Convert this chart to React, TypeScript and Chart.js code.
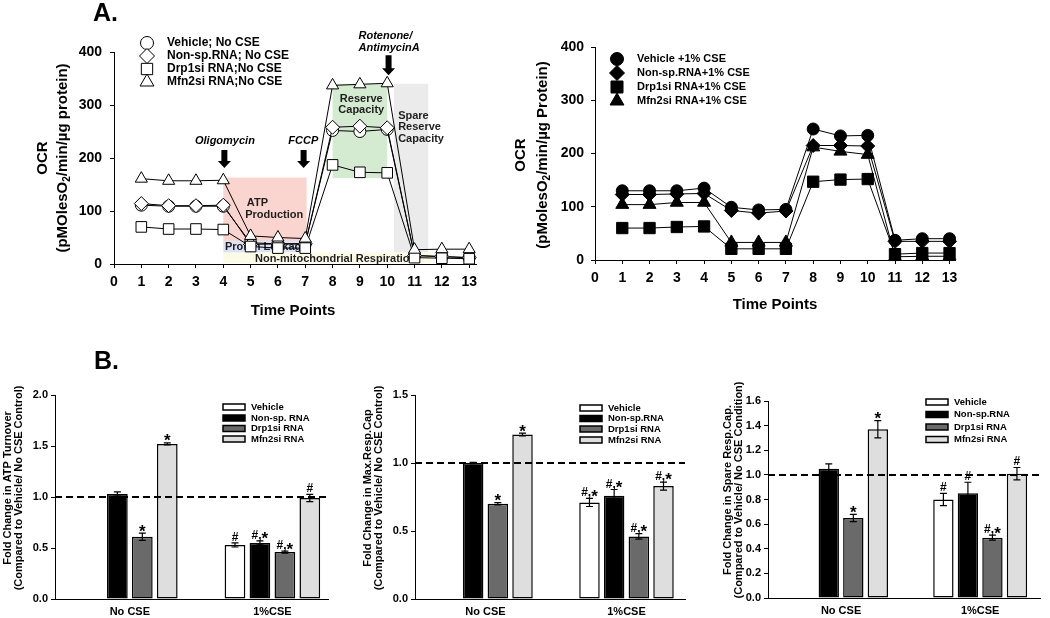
import React, { useEffect, useRef } from 'react';
import { Chart, registerables } from 'chart.js';

Chart.register(...registerables);

const FONT = '"Liberation Sans", Arial, Helvetica, sans-serif';
const W = 1050;
const H = 618;
const bold = (s: number) => `bold ${s}px ${FONT}`;
const boldItalic = (s: number) => `italic bold ${s}px ${FONT}`;

// ---------------- Panel A: OCR time course ----------------
const timePoints = [1, 2, 3, 4, 5, 6, 7, 8, 9, 10, 11, 12, 13];
const timeTicks = [0, 1, 2, 3, 4, 5, 6, 7, 8, 9, 10, 11, 12, 13];
const ocrTicks = [0, 100, 200, 300, 400];

const vehicleNoCSE = [111, 109, 109, 109, 40, 38, 38, 252, 250, 254, 16, 14, 12];
const nonspNoCSE = [114, 110, 110, 111, 37, 38, 38, 258, 260, 257, 16, 14, 12];
const drp1NoCSE = [70, 66, 66, 65, 33, 30, 30, 187, 173, 172, 12, 11, 10];
const mfn2NoCSE = [161, 157, 157, 158, 53, 50, 48, 337, 339, 341, 27, 28, 28];

const vehicleCSE = [130, 130, 130, 135, 99, 94, 95, 246, 233, 234, 37, 40, 40];
const nonspCSE = [123, 123, 124, 125, 93, 88, 92, 215, 215, 214, 35, 35, 35];
const drp1CSE = [60, 60, 62, 63, 21, 21, 21, 147, 151, 152, 11, 13, 13];
const mfn2CSE = [104, 104, 108, 108, 33, 33, 33, 212, 204, 198, 6, 7, 7];

const legendNoCSE = ['Vehicle; No CSE', 'Non-sp.RNA; No CSE', 'Drp1si RNA;No CSE', 'Mfn2si RNA;No CSE'];
const legendCSE = ['Vehicle +1% CSE', 'Non-sp.RNA+1% CSE', 'Drp1si RNA+1% CSE', 'Mfn2si RNA+1% CSE'];

// shaded phases (data coordinates of the No CSE panel)
const phaseRegions = [
  { x0: 4, x1: 11.6, y0: 2, y1: 22, color: '#fcfbe8' },
  { x0: 4, x1: 7.05, y0: 43, y1: 163, color: '#fad5cf' },
  { x0: 4, x1: 7.05, y0: 22, y1: 43, color: '#dde1f5' },
  { x0: 8, x1: 10, y0: 162, y1: 340, color: '#d4ebd2' },
  { x0: 10.25, x1: 11.5, y0: 22, y1: 340, color: '#ebebeb' },
];
const phaseTexts = [
  { text: 'ATP', x: 4.86, y: 115, align: 'left' },
  { text: 'Production', x: 4.8, y: 93, align: 'left' },
  { text: 'Proton Leakage', x: 5.57, y: 32, align: 'center' },
  { text: 'Non-mitochondrial Respiration', x: 5.16, y: 9, align: 'left' },
  { text: 'Reserve', x: 9.05, y: 311, align: 'center' },
  { text: 'Capacity', x: 9.05, y: 290, align: 'center' },
  { text: 'Spare', x: 10.4, y: 279, align: 'left' },
  { text: 'Reserve', x: 10.4, y: 258, align: 'left' },
  { text: 'Capacity', x: 10.4, y: 236, align: 'left' },
];
const injections = [
  { lines: ['Oligomycin'], arrowX: 4.04, textX: 4.06, textY: [232], align: 'center', top: 215, tip: 181 },
  { lines: ['FCCP'], arrowX: 6.94, textX: 6.93, textY: [232], align: 'center', top: 215, tip: 181 },
  { lines: ['Rotenone/', 'AntimycinA'], arrowX: 10.05, textX: 8.95, textY: [430, 408], align: 'left', top: 394, tip: 356 },
];

// ---------------- Panel B: fold changes ----------------
const groupLabels = ['No CSE', '1%CSE'];
const groupPos = [1, 3];
const namesATP = ['Vehicle', 'Non-sp. RNA', 'Drp1si RNA', 'Mfn2si RNA'];
const namesResp = ['Vehicle', 'Non-sp.RNA', 'Drp1si RNA', 'Mfn2si RNA'];
const barColors = ['#ffffff', '#000000', '#6a6a6a', '#dedede'];

const atpVehicle = [null, 0.53];
const atpNonsp = [1.03, 0.55];
const atpDrp1 = [0.61, 0.46];
const atpMfn2 = [1.52, 0.99];
const atpVehicleErr = [0, 0.02];
const atpNonspErr = [0.02, 0.02];
const atpDrp1Err = [0.035, 0.01];
const atpMfn2Err = [0.01, 0.035];
const atpVehicleSig = ['', '#'];
const atpNonspSig = ['', '#,*'];
const atpDrp1Sig = ['*', '#,*'];
const atpMfn2Sig = ['*', '#'];
const atpTicks = [0, 0.5, 1.0, 1.5, 2.0];

const maxVehicle = [null, 0.71];
const maxNonsp = [1.0, 0.76];
const maxDrp1 = [0.7, 0.46];
const maxMfn2 = [1.21, 0.83];
const maxVehicleErr = [0, 0.03];
const maxNonspErr = [0.005, 0.045];
const maxDrp1Err = [0.008, 0.02];
const maxMfn2Err = [0.01, 0.03];
const maxVehicleSig = ['', '#,*'];
const maxNonspSig = ['', '#,*'];
const maxDrp1Sig = ['*', '#,*'];
const maxMfn2Sig = ['*', '#,*'];
const maxTicks = [0, 0.5, 1.0, 1.5];

const spareVehicle = [null, 0.8];
const spareNonsp = [1.05, 0.85];
const spareDrp1 = [0.65, 0.49];
const spareMfn2 = [1.37, 1.01];
const spareVehicleErr = [0, 0.05];
const spareNonspErr = [0.04, 0.09];
const spareDrp1Err = [0.03, 0.02];
const spareMfn2Err = [0.07, 0.05];
const spareVehicleSig = ['', '#'];
const spareNonspSig = ['', '#'];
const spareDrp1Sig = ['*', '#,*'];
const spareMfn2Sig = ['*', '#'];
const spareTicks = [0, 0.2, 0.4, 0.6, 0.8, 1.0, 1.2, 1.4, 1.6];

const referenceLevel = 1.0;

// ---------------- drawing helpers ----------------
function drawMarker(ctx: any, style: string, x: number, y: number, r: number, fill: string) {
  ctx.beginPath();
  if (style === 'circle') {
    ctx.arc(x, y, r, 0, Math.PI * 2);
  } else if (style === 'rect') {
    const s = r * Math.SQRT1_2;
    ctx.rect(x - s, y - s, 2 * s, 2 * s);
  } else if (style === 'rectRot') {
    ctx.moveTo(x, y - r);
    ctx.lineTo(x + r, y);
    ctx.lineTo(x, y + r);
    ctx.lineTo(x - r, y);
    ctx.closePath();
  } else {
    ctx.moveTo(x, y - r);
    ctx.lineTo(x + 0.866 * r, y + 0.5 * r);
    ctx.lineTo(x - 0.866 * r, y + 0.5 * r);
    ctx.closePath();
  }
  ctx.fillStyle = fill;
  ctx.fill();
  ctx.lineWidth = 1;
  ctx.strokeStyle = '#000';
  ctx.stroke();
}

function drawRotatedText(ctx: any, cx: number, cy: number, segs: any[]) {
  ctx.save();
  ctx.translate(cx, cy);
  ctx.rotate(-Math.PI / 2);
  ctx.textBaseline = 'middle';
  ctx.textAlign = 'left';
  ctx.fillStyle = '#000';
  let total = 0;
  const widths = segs.map((s) => {
    ctx.font = bold(s.size);
    const w = ctx.measureText(s.t).width;
    total += w;
    return w;
  });
  let x = -total / 2;
  segs.forEach((s, i) => {
    ctx.font = bold(s.size);
    ctx.fillText(s.t, x, s.dy || 0);
    x += widths[i];
  });
  ctx.restore();
}

function drawDownArrow(ctx: any, x: number, yTop: number, yTip: number) {
  const headLen = 7;
  const sh = 3;
  const hh = 6.5;
  ctx.beginPath();
  ctx.moveTo(x - sh, yTop);
  ctx.lineTo(x + sh, yTop);
  ctx.lineTo(x + sh, yTip - headLen);
  ctx.lineTo(x + hh, yTip - headLen);
  ctx.lineTo(x, yTip);
  ctx.lineTo(x - hh, yTip - headLen);
  ctx.lineTo(x - sh, yTip - headLen);
  ctx.closePath();
  ctx.fillStyle = '#000';
  ctx.fill();
}

function axisStyle(size: number, pad: number, marks: boolean) {
  return {
    offset: false,
    grid: { display: marks, drawOnChartArea: false, drawTicks: marks, tickLength: 4, color: '#000', lineWidth: 1, offset: false },
    border: { display: true, color: '#000', width: 1 },
    ticks: { font: { family: FONT, size, weight: 'bold' }, color: '#000', padding: pad, autoSkip: false, maxRotation: 0, minRotation: 0 },
  };
}

// ---------------- line panels ----------------
function buildLineChart(canvas: HTMLCanvasElement, p: any) {
  const YW = 50;
  const XH = 40;
  const datasets = p.series.map((s: any) => ({
    label: s.label,
    data: timePoints.map((t, i) => ({ x: t, y: s.values[i] })),
    borderColor: '#000',
    borderWidth: 1,
    tension: 0,
    fill: false,
    pointStyle: s.style,
    pointRadius: s.radius,
    pointBackgroundColor: s.fill,
    pointBorderColor: '#000',
    pointBorderWidth: 1,
    order: s.order,
    clip: false,
  }));
  const decor = {
    id: 'decor',
    beforeDatasetsDraw(chart: any) {
      if (p.beforeData) p.beforeData(chart);
    },
    afterDraw(chart: any) {
      const ctx = chart.ctx;
      ctx.save();
      p.legend.forEach((name: string, i: number) => {
        const s = p.series[i];
        const y = p.legendRows[i];
        drawMarker(ctx, s.style, p.legendX, y, s.legendR, s.fill);
        ctx.font = bold(p.legendSize);
        ctx.fillStyle = '#000';
        ctx.textBaseline = 'middle';
        ctx.textAlign = 'left';
        ctx.fillText(name, p.legendTextX, y);
      });
      drawRotatedText(ctx, p.yTitle1X, p.yTitleY, [{ t: 'OCR', size: 15 }]);
      drawRotatedText(ctx, p.yTitle2X, p.yTitleY, p.yTitle2);
      ctx.font = bold(15);
      ctx.fillStyle = '#000';
      ctx.textAlign = 'center';
      ctx.textBaseline = 'middle';
      ctx.fillText('Time Points', p.xTitleX, p.xTitleY);
      if (p.afterAll) p.afterAll(chart);
      ctx.restore();
    },
  };
  return new Chart(canvas, {
    type: 'line',
    data: { datasets },
    options: {
      responsive: false,
      animation: false,
      events: [],
      layout: { padding: { left: p.area.l - YW, top: p.area.t, right: W - p.area.r, bottom: H - p.area.b - XH } },
      plugins: { legend: { display: false }, tooltip: { enabled: false }, title: { display: false } },
      scales: {
        x: {
          type: 'linear',
          min: 0,
          max: p.xMax,
          afterBuildTicks: (s: any) => { s.ticks = timeTicks.map((v) => ({ value: v })); },
          afterFit: (s: any) => { s.height = XH; },
          ...axisStyle(14, 6, true),
        },
        y: {
          type: 'linear',
          min: 0,
          max: 400,
          afterBuildTicks: (s: any) => { s.ticks = ocrTicks.map((v) => ({ value: v })); },
          afterFit: (s: any) => { s.width = YW; },
          ...axisStyle(14, p.yPad, true),
        },
      },
    },
    plugins: [decor],
  } as any);
}

function phaseBackground(chart: any) {
  const ctx = chart.ctx;
  const xs = chart.scales.x;
  const ys = chart.scales.y;
  ctx.save();
  phaseRegions.forEach((r) => {
    const x0 = xs.getPixelForValue(r.x0);
    const x1 = xs.getPixelForValue(r.x1);
    const y0 = ys.getPixelForValue(r.y0);
    const y1 = ys.getPixelForValue(r.y1);
    ctx.fillStyle = r.color;
    ctx.fillRect(x0, y1, x1 - x0, y0 - y1);
  });
  ctx.font = bold(11);
  ctx.fillStyle = '#1e1e1e';
  ctx.textBaseline = 'middle';
  phaseTexts.forEach((t) => {
    ctx.textAlign = t.align;
    ctx.fillText(t.text, xs.getPixelForValue(t.x), ys.getPixelForValue(t.y));
  });
  ctx.restore();
}

function injectionMarks(chart: any) {
  const ctx = chart.ctx;
  const xs = chart.scales.x;
  const ys = chart.scales.y;
  injections.forEach((inj) => {
    drawDownArrow(ctx, xs.getPixelForValue(inj.arrowX), ys.getPixelForValue(inj.top), ys.getPixelForValue(inj.tip));
    ctx.font = boldItalic(11);
    ctx.fillStyle = '#000';
    ctx.textAlign = inj.align;
    ctx.textBaseline = 'middle';
    inj.lines.forEach((ln, i) => {
      ctx.fillText(ln, xs.getPixelForValue(inj.textX), ys.getPixelForValue(inj.textY[i]));
    });
  });
  ctx.font = bold(25);
  ctx.textAlign = 'left';
  ctx.textBaseline = 'alphabetic';
  ctx.fillText('A.', 93, 21);
}

// ---------------- bar panels ----------------
function buildBarChart(canvas: HTMLCanvasElement, p: any) {
  const YW = 40;
  const XH = 30;
  const datasets = p.series.map((s: any) => ({
    label: s.name,
    data: groupPos.map((g, i) => ({ x: g, y: s.values[i] })),
    backgroundColor: s.color,
    borderColor: '#000',
    borderWidth: 1.5,
    borderSkipped: false,
    categoryPercentage: p.catPct,
    barPercentage: 0.83,
  }));
  const decor = {
    id: 'barDecor',
    afterDatasetsDraw(chart: any) {
      const ctx = chart.ctx;
      const ys = chart.scales.y;
      ctx.save();
      ctx.setLineDash([7, 4]);
      ctx.lineWidth = 2;
      ctx.strokeStyle = '#000';
      ctx.beginPath();
      const yr = ys.getPixelForValue(referenceLevel);
      ctx.moveTo(chart.chartArea.left, yr);
      ctx.lineTo(chart.chartArea.right, yr);
      ctx.stroke();
      ctx.setLineDash([]);
      p.series.forEach((s: any, di: number) => {
        const meta = chart.getDatasetMeta(di);
        s.values.forEach((v: any, i: number) => {
          if (v === null || v === undefined) return;
          const el = meta.data[i];
          const x = el.x;
          const yt = ys.getPixelForValue(v + s.err[i]);
          const yb = ys.getPixelForValue(v - s.err[i]);
          ctx.lineWidth = 1.2;
          ctx.strokeStyle = '#000';
          ctx.beginPath();
          ctx.moveTo(x, yt);
          ctx.lineTo(x, yb);
          ctx.moveTo(x - 3.5, yt);
          ctx.lineTo(x + 3.5, yt);
          ctx.moveTo(x - 3.5, yb);
          ctx.lineTo(x + 3.5, yb);
          ctx.stroke();
          const label = s.sig[i];
          if (label) {
            const parts = label.split('').map((c: string) => ({ c, size: c === '*' ? 17 : 12 }));
            let total = 0;
            const ws = parts.map((pt: any) => {
              ctx.font = bold(pt.size);
              const w = ctx.measureText(pt.c).width;
              total += w;
              return w;
            });
            let tx = x - total / 2;
            const base = yt - 2;
            ctx.fillStyle = '#000';
            ctx.textAlign = 'left';
            ctx.textBaseline = 'alphabetic';
            parts.forEach((pt: any, k: number) => {
              ctx.font = bold(pt.size);
              const off = pt.c === '*' ? 0.32 * pt.size : 0;
              ctx.fillText(pt.c, tx, base + off);
              tx += ws[k];
            });
          }
        });
      });
      ctx.restore();
    },
    afterDraw(chart: any) {
      const ctx = chart.ctx;
      ctx.save();
      p.series.forEach((s: any, i: number) => {
        const y = p.legendRows[i];
        ctx.fillStyle = s.color;
        ctx.fillRect(p.legendX, y - 3, 22, 6);
        ctx.lineWidth = 1.5;
        ctx.strokeStyle = '#000';
        ctx.strokeRect(p.legendX, y - 3, 22, 6);
        ctx.font = bold(9.5);
        ctx.fillStyle = '#000';
        ctx.textAlign = 'left';
        ctx.textBaseline = 'middle';
        ctx.fillText(s.name, p.legendX + 28, y);
      });
      drawRotatedText(ctx, p.title1X, p.titleY, [{ t: p.title1, size: 11 }]);
      drawRotatedText(ctx, p.title2X, p.titleY, [{ t: p.title2, size: 11 }]);
      if (p.panelLabel) {
        ctx.font = bold(25);
        ctx.fillStyle = '#000';
        ctx.textAlign = 'left';
        ctx.textBaseline = 'alphabetic';
        ctx.fillText(p.panelLabel, 94, 369);
      }
      ctx.restore();
    },
  };
  const xStyle = axisStyle(11, 6, false);
  const yStyle = axisStyle(11, p.yPad, true);
  return new Chart(canvas, {
    type: 'bar',
    data: { datasets },
    options: {
      responsive: false,
      animation: false,
      events: [],
      layout: { padding: { left: p.area.l - YW, top: p.area.t, right: W - p.area.r, bottom: H - p.area.b - XH } },
      plugins: { legend: { display: false }, tooltip: { enabled: false }, title: { display: false } },
      scales: {
        x: {
          type: 'linear',
          min: p.xMin,
          max: p.xMax,
          bounds: 'data',
          afterBuildTicks: (s: any) => { s.ticks = groupPos.map((v) => ({ value: v })); },
          afterFit: (s: any) => { s.height = XH; },
          ...xStyle,
          ticks: {
            ...xStyle.ticks,
            callback: (v: any) => groupLabels[groupPos.indexOf(Number(v))] ?? '',
          },
        },
        y: {
          type: 'linear',
          min: 0,
          max: p.yTicks[p.yTicks.length - 1],
          afterBuildTicks: (s: any) => { s.ticks = p.yTicks.map((v: number) => ({ value: v })); },
          afterFit: (s: any) => { s.width = YW; },
          ...yStyle,
          ticks: {
            ...yStyle.ticks,
            callback: (v: any) => Number(v).toFixed(1),
          },
        },
      },
    },
    plugins: [decor],
  } as any);
}

function barSeries(names: string[], vals: any[], errs: number[][], sigs: string[][]) {
  return names.map((n, i) => ({ name: n, values: vals[i], err: errs[i], sig: sigs[i], color: barColors[i] }));
}

export default function App() {
  const c0 = useRef<HTMLCanvasElement>(null);
  const c1 = useRef<HTMLCanvasElement>(null);
  const c2 = useRef<HTMLCanvasElement>(null);
  const c3 = useRef<HTMLCanvasElement>(null);
  const c4 = useRef<HTMLCanvasElement>(null);

  useEffect(() => {
    const charts: Chart[] = [];
    charts.push(
      buildLineChart(c0.current!, {
        area: { l: 114, t: 52, r: 476, b: 264 },
        xMax: 13.25,
        yPad: 8,
        series: [
          { label: legendNoCSE[0], values: vehicleNoCSE, style: 'circle', radius: 6, legendR: 6.5, fill: '#fff', order: 4 },
          { label: legendNoCSE[1], values: nonspNoCSE, style: 'rectRot', radius: 7, legendR: 7.5, fill: '#fff', order: 3 },
          { label: legendNoCSE[2], values: drp1NoCSE, style: 'rect', radius: 7.5, legendR: 8, fill: '#fff', order: 2 },
          { label: legendNoCSE[3], values: mfn2NoCSE, style: 'triangle', radius: 7, legendR: 8, fill: '#fff', order: 1 },
        ],
        legend: legendNoCSE,
        legendX: 147,
        legendTextX: 167,
        legendRows: [43, 56, 69, 82],
        legendSize: 12,
        yTitle1X: 43,
        yTitle2X: 63,
        yTitleY: 158,
        yTitle2: [
          { t: '(pMOlesO', size: 15 },
          { t: '2', size: 10, dy: 4 },
          { t: '/min/\u00b5g protein)', size: 15 },
        ],
        xTitleX: 293,
        xTitleY: 311,
        beforeData: phaseBackground,
        afterAll: injectionMarks,
      })
    );
    charts.push(
      buildLineChart(c1.current!, {
        area: { l: 595, t: 47, r: 955, b: 260 },
        xMax: 13.2,
        yPad: 7,
        series: [
          { label: legendCSE[0], values: vehicleCSE, style: 'circle', radius: 6, legendR: 6.5, fill: '#000', order: 3 },
          { label: legendCSE[1], values: nonspCSE, style: 'rectRot', radius: 7, legendR: 7.5, fill: '#000', order: 2 },
          { label: legendCSE[2], values: drp1CSE, style: 'rect', radius: 8, legendR: 8.5, fill: '#000', order: 1 },
          { label: legendCSE[3], values: mfn2CSE, style: 'triangle', radius: 7.5, legendR: 8, fill: '#000', order: 4 },
        ],
        legend: legendCSE,
        legendX: 617,
        legendTextX: 637,
        legendRows: [59, 73, 87, 101],
        legendSize: 11,
        yTitle1X: 521,
        yTitle2X: 543,
        yTitleY: 155,
        yTitle2: [
          { t: '(pMolesO', size: 15 },
          { t: '2', size: 10, dy: 4 },
          { t: '/min/\u00b5g Protein)', size: 15 },
        ],
        xTitleX: 775,
        xTitleY: 305,
      })
    );
    charts.push(
      buildBarChart(c2.current!, {
        area: { l: 55, t: 395, r: 328, b: 599 },
        xMin: -0.05,
        xMax: 3.78,
        catPct: 0.7,
        yPad: 3,
        yTicks: atpTicks,
        series: barSeries(
          namesATP,
          [atpVehicle, atpNonsp, atpDrp1, atpMfn2],
          [atpVehicleErr, atpNonspErr, atpDrp1Err, atpMfn2Err],
          [atpVehicleSig, atpNonspSig, atpDrp1Sig, atpMfn2Sig]
        ),
        legendX: 223,
        legendRows: [407, 418, 428.5, 439],
        title1: 'Fold Change in ATP Turnover',
        title2: '(Compared to Vehicle/ No CSE Control)',
        title1X: 7.5,
        title2X: 18.5,
        titleY: 488,
        panelLabel: 'B.',
      })
    );
    charts.push(
      buildBarChart(c3.current!, {
        area: { l: 415, t: 395, r: 685, b: 599 },
        xMin: 0,
        xMax: 3.83,
        catPct: 0.7,
        yPad: 3,
        yTicks: maxTicks,
        series: barSeries(
          namesResp,
          [maxVehicle, maxNonsp, maxDrp1, maxMfn2],
          [maxVehicleErr, maxNonspErr, maxDrp1Err, maxMfn2Err],
          [maxVehicleSig, maxNonspSig, maxDrp1Sig, maxMfn2Sig]
        ),
        legendX: 580,
        legendRows: [408, 418.5, 429, 440],
        title1: 'Fold Change in Max.Resp.Cap',
        title2: '(Compared to Vehicle/ No CSE Control)',
        title1X: 368,
        title2X: 379,
        titleY: 488,
      })
    );
    charts.push(
      buildBarChart(c4.current!, {
        area: { l: 768, t: 401, r: 1040, b: 598 },
        xMin: -0.05,
        xMax: 3.86,
        catPct: 0.705,
        yPad: 3,
        yTicks: spareTicks,
        series: barSeries(
          namesResp,
          [spareVehicle, spareNonsp, spareDrp1, spareMfn2],
          [spareVehicleErr, spareNonspErr, spareDrp1Err, spareMfn2Err],
          [spareVehicleSig, spareNonspSig, spareDrp1Sig, spareMfn2Sig]
        ),
        legendX: 926,
        legendRows: [402, 414.5, 427, 439.5],
        title1: 'Fold Change in Spare Resp.Cap.',
        title2: '(Compared to Vehicle/ No CSE Condition)',
        title1X: 728,
        title2X: 739,
        titleY: 490,
      })
    );
    return () => charts.forEach((c) => c.destroy());
  }, []);

  const refs = [c0, c1, c2, c3, c4];
  return (
    <div style={{ position: 'absolute', left: 0, top: 0, width: W, height: H, background: '#fff', overflow: 'hidden' }}>
      {refs.map((r, i) => (
        <canvas
          key={i}
          ref={r}
          width={W}
          height={H}
          style={{ position: 'absolute', left: 0, top: 0, width: W, height: H }}
        />
      ))}
    </div>
  );
}
